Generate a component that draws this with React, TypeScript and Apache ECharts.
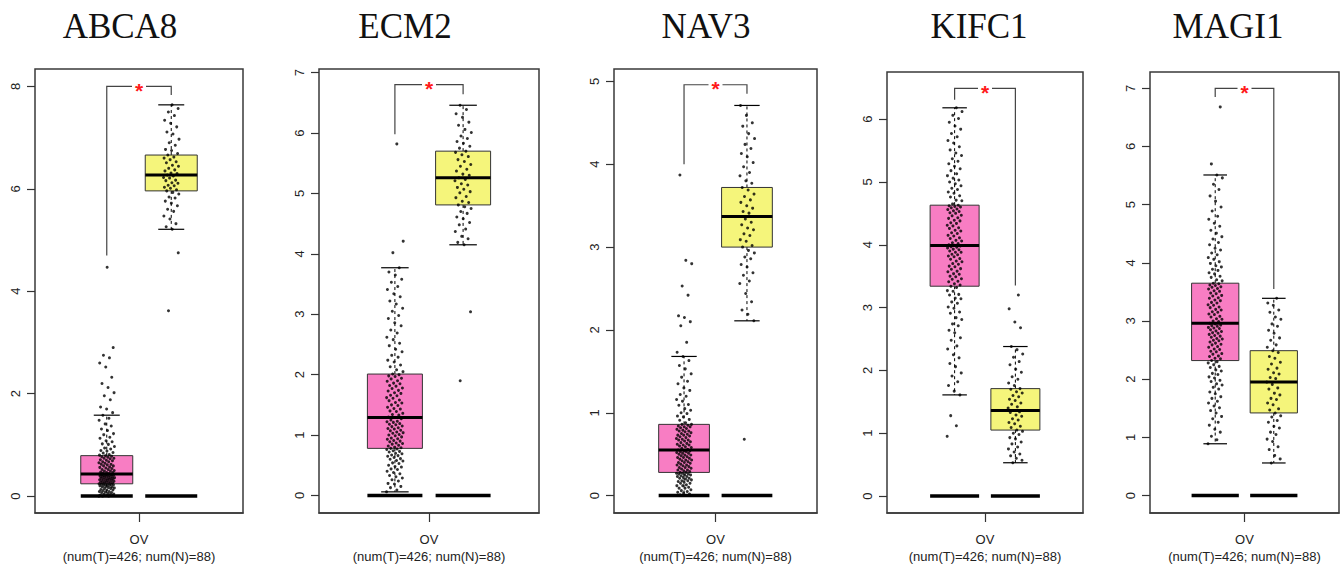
import React, { useEffect, useRef } from "react";
import * as echarts from "echarts";

// ---------------- data ----------------
const genes = ["ABCA8", "ECM2", "NAV3", "KIFC1", "MAGI1"];
const cancerLabel = "OV";
const sampleLabel = "(num(T)=426; num(N)=88)";
const significance = "*";

// box statistics: [lower whisker, Q1, median, Q3, upper whisker]
const tumorStats = [
  [0.0, 0.24, 0.43, 0.79, 1.58],
  [0.06, 0.78, 1.29, 2.01, 3.77],
  [0.0, 0.28, 0.55, 0.86, 1.68],
  [1.61, 3.34, 3.99, 4.63, 6.18],
  [0.89, 2.32, 2.96, 3.65, 5.51],
];
const normalStats = [
  [5.21, 5.96, 6.27, 6.66, 7.64],
  [4.15, 4.81, 5.26, 5.7, 6.46],
  [2.11, 3.0, 3.37, 3.72, 4.71],
  [0.53, 1.05, 1.36, 1.71, 2.38],
  [0.56, 1.42, 1.95, 2.49, 3.39],
];
// bracket: [height, left leg end, right leg end]
const brackets = [
  [8.0, 4.7, 7.83],
  [6.8, 5.98, 6.64],
  [4.96, 4.0, 4.85],
  [6.49, 6.31, 3.35],
  [7.0, 6.85, 3.55],
];
const yTicks = [
  [0, 2, 4, 6, 8],
  [0, 1, 2, 3, 4, 5, 6, 7],
  [0, 1, 2, 3, 4, 5],
  [0, 1, 2, 3, 4, 5, 6],
  [0, 1, 2, 3, 4, 5, 6, 7],
];

// individual (estimated) expression values
const abca8Tumor = [
  0, 0, 0, 0.01, 0.01, 0.02, 0.03, 0.04, 0.04, 0.05, 0.07, 0.07, 0.08, 0.09, 0.09, 0.11, 0.12, 0.12, 0.13, 0.15,
  0.15, 0.16, 0.17, 0.18, 0.18, 0.19, 0.2, 0.21, 0.21, 0.22, 0.22, 0.23, 0.23, 0.24, 0.24, 0.25, 0.25, 0.26, 0.27,
  0.27, 0.28, 0.28, 0.29, 0.3, 0.3, 0.31, 0.31, 0.32, 0.33, 0.33, 0.34, 0.34, 0.35, 0.35, 0.36, 0.36, 0.37, 0.38,
  0.38, 0.39, 0.39, 0.4, 0.4, 0.41, 0.41, 0.42, 0.42, 0.43, 0.43, 0.44, 0.45, 0.46, 0.46, 0.47, 0.49, 0.49, 0.5,
  0.52, 0.52, 0.54, 0.55, 0.56, 0.57, 0.59, 0.59, 0.61, 0.62, 0.62, 0.64, 0.65, 0.67, 0.67, 0.69, 0.7, 0.71, 0.73,
  0.74, 0.74, 0.76, 0.77, 0.78, 0.79, 0.8, 0.81, 0.84, 0.85, 0.88, 0.89, 0.92, 0.94, 0.97, 1.01, 1.02, 1.06, 1.08,
  1.13, 1.15, 1.2, 1.22, 1.28, 1.31, 1.37, 1.41, 1.48, 1.52, 1.58, 1.63, 1.7, 1.74, 1.88, 1.96, 2.02, 2.12, 2.2,
  2.32, 2.52, 2.6, 2.7, 2.75, 2.9, 4.47,
];
const abca8Normal = [
  3.62, 4.75, 5.21, 5.26, 5.32, 5.41, 5.47, 5.56, 5.6, 5.67, 5.72, 5.76, 5.82, 5.84, 5.9, 5.93, 5.96, 5.98, 6.01,
  6.03, 6.06, 6.07, 6.11, 6.12, 6.16, 6.17, 6.21, 6.22, 6.25, 6.27, 6.3, 6.31, 6.35, 6.37, 6.4, 6.44, 6.46, 6.51,
  6.53, 6.57, 6.6, 6.62, 6.66, 6.69, 6.75, 6.77, 6.85, 6.9, 6.97, 7.07, 7.11, 7.21, 7.28, 7.34, 7.43, 7.5, 7.57, 7.64,
];
const ecm2Tumor = [
  0.06, 0.09, 0.13, 0.15, 0.19, 0.2, 0.24, 0.26, 0.29, 0.31, 0.33, 0.36, 0.38, 0.4, 0.43, 0.44, 0.47, 0.48, 0.5,
  0.53, 0.54, 0.57, 0.58, 0.6, 0.61, 0.63, 0.65, 0.66, 0.67, 0.69, 0.7, 0.72, 0.73, 0.74, 0.76, 0.77, 0.78, 0.79,
  0.8, 0.82, 0.83, 0.85, 0.86, 0.87, 0.89, 0.9, 0.91, 0.93, 0.94, 0.95, 0.97, 0.99, 1.0, 1.01, 1.03, 1.04, 1.05,
  1.07, 1.08, 1.1, 1.11, 1.12, 1.14, 1.15, 1.17, 1.18, 1.19, 1.21, 1.22, 1.23, 1.25, 1.27, 1.29, 1.3, 1.33, 1.34,
  1.36, 1.39, 1.4, 1.43, 1.44, 1.46, 1.49, 1.5, 1.53, 1.54, 1.57, 1.58, 1.61, 1.62, 1.65, 1.66, 1.69, 1.7, 1.73,
  1.74, 1.77, 1.78, 1.81, 1.82, 1.85, 1.86, 1.89, 1.9, 1.93, 1.94, 1.97, 1.98, 2.0, 2.01, 2.05, 2.08, 2.13, 2.16,
  2.21, 2.24, 2.29, 2.32, 2.38, 2.42, 2.48, 2.52, 2.58, 2.62, 2.69, 2.74, 2.81, 2.86, 2.93, 2.98, 3.05, 3.1, 3.17,
  3.22, 3.29, 3.34, 3.41, 3.46, 3.53, 3.58, 3.65, 3.7, 3.77, 4.02, 4.21, 5.82,
];
const ecm2Normal = [
  1.9, 3.04, 4.15, 4.19, 4.25, 4.29, 4.37, 4.41, 4.48, 4.52, 4.58, 4.61, 4.67, 4.7, 4.75, 4.78, 4.81, 4.85, 4.87,
  4.93, 4.95, 5.01, 5.03, 5.07, 5.1, 5.14, 5.16, 5.21, 5.23, 5.26, 5.3, 5.32, 5.37, 5.4, 5.45, 5.48, 5.53, 5.56,
  5.61, 5.64, 5.68, 5.7, 5.75, 5.78, 5.83, 5.86, 5.91, 5.95, 6.01, 6.06, 6.13, 6.18, 6.26, 6.32, 6.39, 6.46,
];
const nav3Tumor = [
  0, 0, 0.01, 0.02, 0.03, 0.04, 0.05, 0.06, 0.07, 0.09, 0.09, 0.1, 0.12, 0.12, 0.13, 0.15, 0.15, 0.16, 0.17, 0.18,
  0.18, 0.19, 0.2, 0.21, 0.21, 0.22, 0.23, 0.23, 0.24, 0.25, 0.25, 0.26, 0.26, 0.27, 0.27, 0.28, 0.28, 0.29, 0.3,
  0.31, 0.31, 0.32, 0.33, 0.34, 0.34, 0.35, 0.36, 0.37, 0.37, 0.38, 0.39, 0.4, 0.4, 0.41, 0.42, 0.43, 0.43, 0.44,
  0.45, 0.46, 0.46, 0.47, 0.48, 0.49, 0.49, 0.5, 0.51, 0.51, 0.52, 0.53, 0.53, 0.54, 0.54, 0.55, 0.56, 0.57, 0.58,
  0.59, 0.6, 0.61, 0.61, 0.62, 0.63, 0.64, 0.65, 0.66, 0.67, 0.67, 0.68, 0.69, 0.7, 0.71, 0.72, 0.73, 0.73, 0.74,
  0.75, 0.76, 0.77, 0.78, 0.78, 0.79, 0.8, 0.81, 0.82, 0.83, 0.83, 0.84, 0.85, 0.86, 0.86, 0.88, 0.91, 0.92, 0.95,
  0.96, 0.99, 1.0, 1.03, 1.05, 1.09, 1.1, 1.14, 1.16, 1.2, 1.22, 1.27, 1.3, 1.35, 1.38, 1.43, 1.47, 1.53, 1.57,
  1.63, 1.68, 1.73, 1.85, 2.05, 2.1, 2.15, 2.17, 2.42, 2.53, 2.8, 2.84, 3.87,
];
const nav3Normal = [
  0.68, 2.11, 2.19, 2.24, 2.34, 2.44, 2.56, 2.59, 2.66, 2.69, 2.76, 2.79, 2.86, 2.88, 2.93, 2.96, 3.0, 3.02, 3.07,
  3.09, 3.14, 3.16, 3.21, 3.23, 3.27, 3.3, 3.34, 3.37, 3.41, 3.43, 3.47, 3.5, 3.54, 3.57, 3.61, 3.64, 3.69, 3.72,
  3.77, 3.8, 3.86, 3.9, 3.97, 4.02, 4.09, 4.13, 4.19, 4.24, 4.31, 4.37, 4.46, 4.5, 4.59, 4.71,
];
const kifc1Tumor = [
  0.95, 1.12, 1.28, 1.61, 1.67, 1.76, 1.82, 1.91, 1.96, 2.06, 2.11, 2.2, 2.25, 2.34, 2.39, 2.48, 2.52, 2.6, 2.64,
  2.71, 2.74, 2.81, 2.84, 2.91, 2.93, 2.99, 3.01, 3.07, 3.09, 3.14, 3.15, 3.2, 3.21, 3.26, 3.27, 3.32, 3.34, 3.36,
  3.38, 3.41, 3.42, 3.45, 3.46, 3.49, 3.5, 3.53, 3.54, 3.57, 3.58, 3.61, 3.62, 3.65, 3.66, 3.69, 3.7, 3.73, 3.74,
  3.77, 3.78, 3.81, 3.82, 3.84, 3.85, 3.88, 3.88, 3.9, 3.92, 3.93, 3.95, 3.96, 3.97, 3.98, 3.99, 4.0, 4.02, 4.03,
  4.06, 4.07, 4.1, 4.11, 4.14, 4.15, 4.18, 4.19, 4.22, 4.23, 4.26, 4.27, 4.3, 4.31, 4.34, 4.35, 4.38, 4.39, 4.42,
  4.43, 4.46, 4.47, 4.5, 4.51, 4.53, 4.54, 4.56, 4.57, 4.59, 4.6, 4.61, 4.62, 4.63, 4.65, 4.7, 4.71, 4.76, 4.78,
  4.82, 4.84, 4.88, 4.9, 4.94, 4.97, 5.0, 5.03, 5.06, 5.1, 5.13, 5.18, 5.21, 5.25, 5.29, 5.33, 5.37, 5.42, 5.46,
  5.51, 5.56, 5.62, 5.66, 5.72, 5.77, 5.84, 5.89, 5.95, 6.01, 6.06, 6.12, 6.18,
];
const kifc1Normal = [
  0.53, 0.57, 0.6, 0.64, 0.67, 0.7, 0.75, 0.78, 0.83, 0.86, 0.91, 0.93, 0.98, 1.0, 1.03, 1.05, 1.09, 1.11, 1.15,
  1.17, 1.21, 1.23, 1.27, 1.29, 1.33, 1.34, 1.36, 1.4, 1.42, 1.46, 1.48, 1.52, 1.54, 1.58, 1.6, 1.64, 1.66, 1.7,
  1.71, 1.76, 1.8, 1.86, 1.9, 1.97, 2.02, 2.09, 2.14, 2.21, 2.26, 2.33, 2.38, 2.68, 2.77, 2.98, 3.2,
];
const magi1Tumor = [
  0.89, 0.96, 1.02, 1.09, 1.14, 1.21, 1.26, 1.32, 1.36, 1.42, 1.46, 1.51, 1.54, 1.59, 1.62, 1.67, 1.7, 1.75, 1.78,
  1.83, 1.86, 1.9, 1.92, 1.96, 1.98, 2.02, 2.04, 2.08, 2.1, 2.14, 2.16, 2.2, 2.22, 2.25, 2.28, 2.3, 2.32, 2.35,
  2.36, 2.39, 2.4, 2.43, 2.44, 2.47, 2.48, 2.51, 2.52, 2.55, 2.56, 2.59, 2.6, 2.62, 2.64, 2.66, 2.67, 2.69, 2.7,
  2.72, 2.74, 2.75, 2.77, 2.79, 2.8, 2.82, 2.83, 2.85, 2.87, 2.88, 2.89, 2.91, 2.92, 2.93, 2.95, 2.96, 2.99, 3.0,
  3.03, 3.04, 3.07, 3.08, 3.11, 3.12, 3.15, 3.16, 3.19, 3.2, 3.23, 3.24, 3.27, 3.28, 3.31, 3.32, 3.35, 3.36, 3.39,
  3.4, 3.43, 3.44, 3.47, 3.48, 3.51, 3.52, 3.55, 3.56, 3.58, 3.59, 3.61, 3.62, 3.64, 3.65, 3.69, 3.71, 3.75, 3.77,
  3.81, 3.83, 3.87, 3.89, 3.93, 3.95, 3.99, 4.02, 4.06, 4.09, 4.14, 4.17, 4.22, 4.25, 4.31, 4.35, 4.41, 4.45, 4.51,
  4.56, 4.63, 4.68, 4.75, 4.8, 4.89, 4.96, 5.06, 5.15, 5.26, 5.35, 5.46, 5.51, 5.7, 6.68,
];
const magi1Normal = [
  0.56, 0.63, 0.69, 0.79, 0.84, 0.93, 0.97, 1.05, 1.09, 1.16, 1.19, 1.26, 1.29, 1.35, 1.37, 1.42, 1.47, 1.49, 1.56,
  1.59, 1.65, 1.67, 1.73, 1.76, 1.83, 1.85, 1.91, 1.95, 2.01, 2.03, 2.09, 2.11, 2.17, 2.19, 2.26, 2.29, 2.36, 2.39,
  2.46, 2.49, 2.55, 2.59, 2.67, 2.71, 2.79, 2.84, 2.91, 2.95, 3.03, 3.07, 3.15, 3.19, 3.27, 3.31, 3.39,
];
const tumorValues = [abca8Tumor, ecm2Tumor, nav3Tumor, kifc1Tumor, magi1Tumor];
const normalValues = [abca8Normal, ecm2Normal, nav3Normal, kifc1Normal, magi1Normal];

// ---------------- layout & style ----------------
const W = 1341;
const H = 568;
const panels = [
  { left: 35, top: 69, width: 208, height: 444, yMin: -0.33, yMax: 8.34, titleX: 120 },
  { left: 319, top: 69, width: 220, height: 444, yMin: -0.29, yMax: 7.06, titleX: 405 },
  { left: 614, top: 69, width: 203, height: 444, yMin: -0.21, yMax: 5.15, titleX: 706 },
  { left: 887, top: 72, width: 196, height: 441, yMin: -0.27, yMax: 6.75, titleX: 979 },
  { left: 1150, top: 72, width: 189, height: 441, yMin: -0.3, yMax: 7.28, titleX: 1228 },
];
const CT = 0.345; // tumor position on the [0,1] x axis
const CN = 0.655; // normal position
const BOX_HALF = 0.125;
const JITTER = 0.038;
const Y_LABEL_OFFSET = 20;
const TUMOR_COLOR = "#F87DC3";
const NORMAL_COLOR = "#F5F57B";
const LINE_COLOR = "#333";
const FONT = "'Liberation Sans', Arial, sans-serif";

const jitter = (i: number) => ((i * 0.6180339887) % 1) * 2 - 1;

function boxRender(params: any, api: any) {
  const g = api.value(0);
  const c = g === 0 ? CT : CN;
  const low = api.value(1), q1 = api.value(2), med = api.value(3), q3 = api.value(4), high = api.value(5);
  const x = api.coord([c, 0])[0];
  const y0 = api.coord([c, 0])[1];
  const yLow = api.coord([c, low])[1];
  const yQ1 = api.coord([c, q1])[1];
  const yMed = api.coord([c, med])[1];
  const yQ3 = api.coord([c, q3])[1];
  const yHigh = api.coord([c, high])[1];
  const hw = api.size([BOX_HALF, 0])[0];
  const cap = hw * 0.5;
  const dash = { stroke: "#000", lineWidth: 1, lineDash: [3, 3] };
  return {
    type: "group",
    children: [
      { type: "line", shape: { x1: x - hw, y1: y0, x2: x + hw, y2: y0 }, style: { stroke: "#000", lineWidth: 3.5 } },
      { type: "line", shape: { x1: x, y1: yQ3, x2: x, y2: yHigh }, style: dash },
      { type: "line", shape: { x1: x, y1: yQ1, x2: x, y2: yLow }, style: dash },
      { type: "line", shape: { x1: x - cap, y1: yHigh, x2: x + cap, y2: yHigh }, style: { stroke: "#000", lineWidth: 1.2 } },
      { type: "line", shape: { x1: x - cap, y1: yLow, x2: x + cap, y2: yLow }, style: { stroke: "#000", lineWidth: 1.2 } },
      {
        type: "rect",
        shape: { x: x - hw, y: yQ3, width: hw * 2, height: yQ1 - yQ3 },
        style: { fill: g === 0 ? TUMOR_COLOR : NORMAL_COLOR, stroke: LINE_COLOR, lineWidth: 1 },
      },
      { type: "line", shape: { x1: x - hw, y1: yMed, x2: x + hw, y2: yMed }, style: { stroke: "#000", lineWidth: 3 } },
    ],
  };
}

function bracketRender(params: any, api: any) {
  const h = api.value(0), legL = api.value(1), legR = api.value(2);
  const xl = api.coord([CT, 0])[0];
  const xr = api.coord([CN, 0])[0];
  const xm = api.coord([0.5, 0])[0];
  const y = api.coord([0.5, h])[1];
  const yl = api.coord([CT, legL])[1];
  const yr = api.coord([CN, legR])[1];
  const st = { stroke: "#444", lineWidth: 1.2, fill: "none" };
  return {
    type: "group",
    children: [
      { type: "polyline", shape: { points: [[xl, yl], [xl, y], [xm - 7, y]] }, style: st },
      { type: "polyline", shape: { points: [[xm + 7, y], [xr, y], [xr, yr]] }, style: st },
      {
        type: "text",
        x: xm,
        y: y + 4,
        style: { text: significance, fill: "#FF1A1A", fontSize: 21, fontWeight: "bold", fontFamily: FONT, align: "center", verticalAlign: "middle" },
      },
    ],
  };
}

export default function App() {
  const ref = useRef<HTMLDivElement>(null);
  useEffect(() => {
    if (!ref.current) return;
    const chart = echarts.init(ref.current, undefined, { renderer: "svg" });
    const grid: any[] = [];
    const xAxis: any[] = [];
    const yAxis: any[] = [];
    const series: any[] = [];
    const titles: any[] = [];
    panels.forEach((p, i) => {
      grid.push({ left: p.left, top: p.top, width: p.width, height: p.height, show: true, borderColor: "#3a3a3a", borderWidth: 1.5, containLabel: false });
      xAxis.push({
        type: "value", gridIndex: i, min: 0, max: 1, position: "bottom",
        axisLine: { show: true, onZero: false, lineStyle: { color: "#3a3a3a", width: 1.5 } }, splitLine: { show: false },
        axisTick: { show: true, customValues: [0.5], length: 9, lineStyle: { color: LINE_COLOR, width: 1.2 } },
        axisLabel: {
          show: true, customValues: [0.5], margin: 18, fontSize: 13, lineHeight: 17, color: "#222", fontFamily: FONT,
          formatter: () => cancerLabel + "\n" + sampleLabel,
        },
      });
      yAxis.push({
        type: "value", gridIndex: i, min: p.yMin, max: p.yMax,
        axisLine: { show: false, onZero: false }, splitLine: { show: false },
        axisTick: { show: true, customValues: yTicks[i], length: 8, lineStyle: { color: LINE_COLOR, width: 1.2 } },
        axisLabel: { show: false },
      });
      series.push({
        type: "custom", xAxisIndex: i, yAxisIndex: i, silent: true, clip: false,
        renderItem: boxRender,
        data: [[0, ...tumorStats[i]], [1, ...normalStats[i]]],
      });
      series.push({
        type: "scatter", xAxisIndex: i, yAxisIndex: i, silent: true, symbol: "circle", symbolSize: 3,
        itemStyle: { color: "#000" },
        data: [
          ...tumorValues[i].map((v, k) => [CT + JITTER * jitter(k), v]),
          ...normalValues[i].map((v, k) => [CN + JITTER * jitter(k + 7), v]),
        ],
      });
      series.push({
        type: "custom", xAxisIndex: i, yAxisIndex: i, silent: true, clip: false,
        renderItem: bracketRender,
        data: [brackets[i]],
      });
      titles.push({
        type: "text", x: p.titleX, y: 26,
        style: { text: genes[i], fontSize: 35, fontFamily: "'Liberation Serif', 'Times New Roman', serif", fill: "#111", align: "center", verticalAlign: "middle" },
      });
    });
    chart.setOption({ animation: false, backgroundColor: "#fff", grid, xAxis, yAxis, series, graphic: titles });

    // rotated y tick labels (reading bottom-to-top), positioned through each grid's own scale
    const tickLabels: any[] = [];
    panels.forEach((p, i) => {
      yTicks[i].forEach((t) => {
        const pt = chart.convertToPixel({ gridIndex: i }, [0, t]) as number[];
        tickLabels.push({
          type: "group", x: p.left - Y_LABEL_OFFSET, y: pt[1], rotation: Math.PI / 2,
          children: [
            {
              type: "text", x: 0, y: 0,
              style: { text: String(t), fontSize: 13, fontFamily: FONT, fill: "#222", align: "center", verticalAlign: "middle" },
            },
          ],
        });
      });
    });
    chart.setOption({ graphic: [...titles, ...tickLabels] });
    return () => chart.dispose();
  }, []);
  return <div ref={ref} style={{ position: "absolute", left: 0, top: 0, width: W, height: H }} />;
}
